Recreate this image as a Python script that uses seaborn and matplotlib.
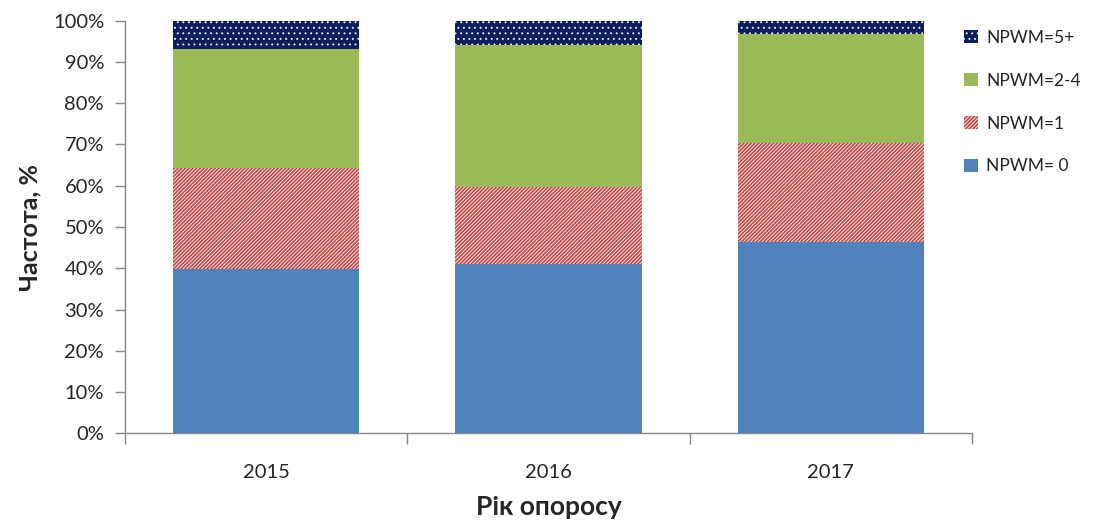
import matplotlib
matplotlib.use("Agg")
import matplotlib.pyplot as plt
from matplotlib.patches import Patch
import numpy as np
import pandas as pd
import seaborn as sns

years = ["2015", "2016", "2017"]
npwm_0 = [39.8, 41.0, 46.3]
npwm_1 = [24.6, 18.8, 24.0]
npwm_2_4 = [28.7, 34.3, 26.5]
npwm_5 = [6.9, 5.9, 3.2]

series_labels = ["NPWM= 0", "NPWM=1", "NPWM=2-4", "NPWM=5+"]
y_ticks = [0, 10, 20, 30, 40, 50, 60, 70, 80, 90, 100]

sns.set_theme(style="white")
plt.rcParams["font.family"] = ["Lato", "DejaVu Sans"]
plt.rcParams["hatch.linewidth"] = 0.65

fig = plt.figure(figsize=(10.98, 5.23), dpi=100)
ax = fig.add_axes([0.1138, 0.1715, 0.7714, 0.7889])

df = pd.DataFrame({
    "year": years,
    "s0": npwm_0,
    "s1": npwm_1,
    "s2": npwm_2_4,
    "s3": npwm_5,
})
cum = df[["s0", "s1", "s2", "s3"]].cumsum(axis=1)

styles = [
    dict(color="#4F81BD", hatch=None, ec="#4F81BD"),
    dict(color="#C0504D", hatch="/" * 9, ec="#F6E2E2"),
    dict(color="#9BBB59", hatch=None, ec="#9BBB59"),
    dict(color="#0B1F5C", hatch="...", ec="#E8ECF5"),
]

# Stacked bars drawn from the tallest cumulative layer down
for i in [3, 2, 1, 0]:
    col = ["s0", "s1", "s2", "s3"][i]
    st = styles[i]
    sns.barplot(x=df["year"], y=cum[col], color=st["color"], width=0.66,
                saturation=1, ax=ax, linewidth=0)
    n_new = len(years)
    for p in ax.patches[-n_new:]:
        p.set_facecolor(st["color"])
        if st["hatch"]:
            p.set_hatch(st["hatch"])
            p.set_edgecolor(st["ec"])
            p.set_linewidth(0)

ax.set_xlim(-0.5, 2.5)
ax.set_ylim(0, 100)
ax.set_yticks(y_ticks)
ax.set_yticklabels([f"{t}%" for t in y_ticks])

for s in ["top", "right"]:
    ax.spines[s].set_visible(False)
for s in ["left", "bottom"]:
    ax.spines[s].set_color("#868686")
    ax.spines[s].set_linewidth(1.0)

ax.set_xticks([0, 1, 2])
ax.set_xticklabels(years)
ax.set_xticks([-0.5, 0.5, 1.5, 2.5], minor=True)
ax.tick_params(axis="x", which="major", length=0, pad=22, labelsize=14.5,
               labelcolor="#262626")
ax.tick_params(axis="x", which="minor", length=8, width=1, color="#868686",
               direction="out", bottom=True)
ax.tick_params(axis="y", length=7, width=1, color="#868686", direction="out",
               left=True, labelsize=14.5, labelcolor="#262626", pad=8)

ax.set_xlabel("Рік опоросу", fontsize=19, fontweight="bold", color="#262626",
              labelpad=10)
ax.set_ylabel("Частота, %", fontsize=18, fontweight="bold", color="#262626",
              labelpad=8)

handles = []
for i in [3, 2, 1, 0]:
    st = styles[i]
    h = Patch(facecolor=st["color"], hatch=st["hatch"],
              edgecolor=st["ec"] if st["hatch"] else st["color"], linewidth=0)
    handles.append((h, series_labels[i]))

leg = ax.legend([h for h, _ in handles], [l for _, l in handles],
                loc="upper left", bbox_to_anchor=(0.983, 0.995), frameon=False,
                fontsize=12.5, handlelength=0.8, handleheight=0.8,
                handletextpad=0.45, labelspacing=1.55, borderaxespad=0)
for t in leg.get_texts():
    t.set_color("#262626")

fig.savefig("out.png", dpi=100)
